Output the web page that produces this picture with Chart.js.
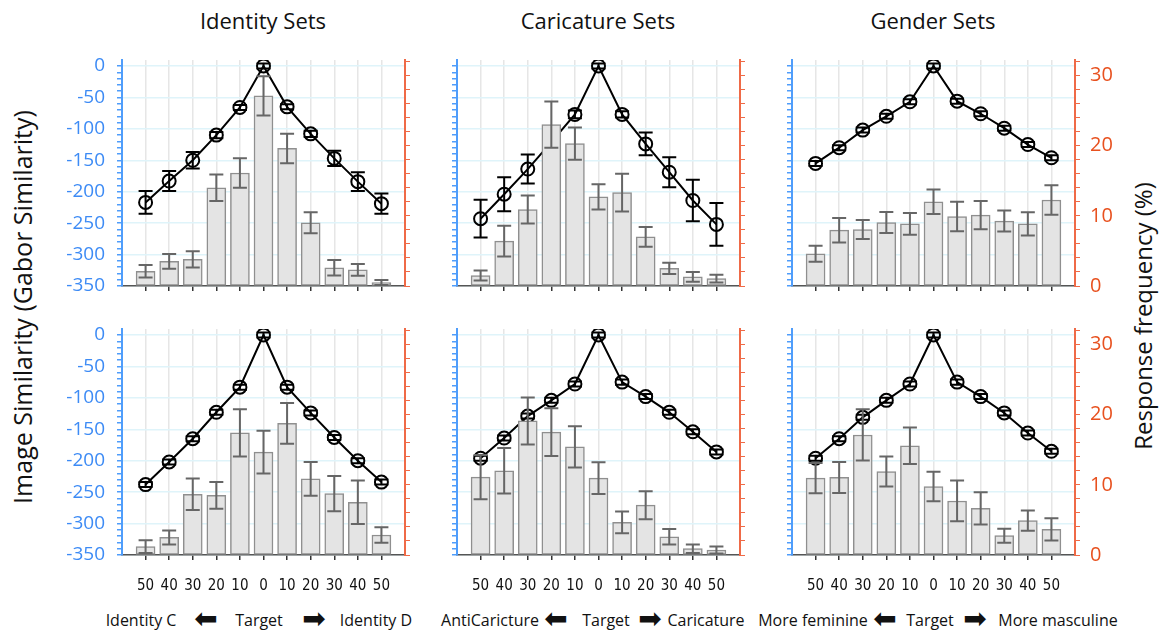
<!DOCTYPE html>
<html>
<head>
<meta charset="utf-8">
<script src="https://cdn.jsdelivr.net/npm/chart.js@4.4.1/dist/chart.umd.min.js"></script>
<style>
  body { margin: 0; background: #fff; width: 1160px; height: 635px; overflow: hidden; position: relative; font-family: 'Open Sans', sans-serif; color: #111; }
  .panel { position: absolute; }
  .title { position: absolute; top: 5px; font-size: 22px; transform: translateX(-50%); white-space: nowrap; }
  .ylab { position: absolute; white-space: nowrap; transform: translate(-50%, -50%) rotate(-90deg); }
  .note { position: absolute; top: 609px; font-size: 16px; line-height: 22px; transform: translateX(-50%); white-space: nowrap; }
  .arrow { font-family: 'DejaVu Sans', sans-serif; font-size: 28px; line-height: 28px; top: 605px; }
</style>
</head>
<body>
<div class="title" style="left:263px">Identity Sets</div>
<div class="title" style="left:598px">Caricature Sets</div>
<div class="title" style="left:933px">Gender Sets</div>
<div class="ylab" style="left:22px; top:307px; font-size:25px">Image Similarity (Gabor Similarity)</div>
<div class="ylab" style="left:1142px; top:316px; font-size:24px">Response frequency (%)</div>

<div class="note" style="left:141px">Identity C</div>
<div class="note arrow" style="left:206px">⬅</div>
<div class="note" style="left:259px">Target</div>
<div class="note arrow" style="left:314px">➡</div>
<div class="note" style="left:376px">Identity D</div>

<div class="note" style="left:490px">AntiCaricture</div>
<div class="note arrow" style="left:556px">⬅</div>
<div class="note" style="left:606px">Target</div>
<div class="note arrow" style="left:650px">➡</div>
<div class="note" style="left:706px">Caricature</div>

<div class="note" style="left:813px">More feminine</div>
<div class="note arrow" style="left:885px">⬅</div>
<div class="note" style="left:930px">Target</div>
<div class="note arrow" style="left:975px">➡</div>
<div class="note" style="left:1058px">More masculine</div>

<script>
const xLabels = ['50', '40', '30', '20', '10', '0', '10', '20', '30', '40', '50'];

// Identity sets
const simIdTop = [-217, -183, -150, -110, -66, 0, -65, -108, -147, -184, -219];
const simIdTopErr = [18, 16, 13, 5, 4, 4, 4, 5, 12, 15, 16];
const freqIdTop = [2.1, 3.5, 3.8, 14.0, 16.1, 27.1, 19.6, 9.0, 2.6, 2.3, 0.5];
const freqIdTopErr = [0.9, 1.05, 1.15, 1.9, 2.1, 2.8, 2.1, 1.5, 1.1, 0.85, 0.35];

const simIdBot = [-238, -202, -165, -123, -83, 0, -83, -124, -163, -200, -234];
const simIdBotErr = [4, 4, 4, 4, 4, 4, 4, 4, 4, 4, 4];
const freqIdBot = [1.2, 2.5, 8.65, 8.5, 17.4, 14.65, 18.75, 10.85, 8.75, 7.5, 2.85];
const freqIdBotErr = [0.9, 1.0, 2.25, 1.9, 3.35, 3.05, 2.9, 2.4, 2.5, 3.1, 1.1];

// Caricature sets
const simCarTop = [-243, -204, -164, -121, -77, 0, -77, -124, -169, -214, -252];
const simCarTopErr = [30, 27, 23, 20, 6, 4, 5, 18, 24, 33, 34];
const freqCarTop = [1.5, 6.4, 10.9, 23.0, 20.3, 12.7, 13.3, 7.0, 2.5, 1.3, 1.05];
const freqCarTopErr = [0.7, 2.2, 2.0, 3.3, 2.3, 1.8, 2.7, 1.4, 0.8, 0.7, 0.55];

const simCarBot = [-196, -164, -129, -104, -78, 0, -75, -98, -123, -154, -186];
const simCarBotErr = [4, 4, 4, 4, 4, 4, 4, 4, 4, 4, 4];
const freqCarBot = [11.1, 12.0, 19.1, 17.5, 15.4, 10.95, 4.65, 7.1, 2.6, 0.9, 0.7];
const freqCarBotErr = [3.15, 3.25, 3.35, 3.4, 2.95, 2.25, 1.55, 2.0, 1.1, 0.6, 0.5];

// Gender sets
const simGenTop = [-155, -130, -102, -80, -57, 0, -56, -76, -99, -125, -146];
const simGenTopErr = [4, 4, 4, 4, 4, 4, 4, 4, 4, 4, 4];
const freqGenTop = [4.6, 7.95, 8.05, 9.05, 8.85, 12.0, 9.9, 10.1, 9.25, 8.85, 12.25];
const freqGenTopErr = [1.15, 1.75, 1.35, 1.5, 1.55, 1.75, 2.1, 2.0, 1.5, 1.65, 2.1];

const simGenBot = [-196, -165, -131, -104, -78, 0, -75, -98, -124, -156, -185];
const simGenBotErr = [4, 4, 4, 4, 4, 4, 4, 4, 4, 4, 4];
const freqGenBot = [10.95, 11.05, 17.1, 11.9, 15.55, 9.75, 7.7, 6.65, 2.75, 4.9, 3.65];
const freqGenBotErr = [2.15, 2.2, 3.65, 2.15, 2.6, 2.1, 2.9, 2.3, 1.0, 1.45, 1.6];

const BLUE = '#3d8bf5';
const BLUE_AXIS = '#4f9dfb';
const RED = '#e8511f';
const RED_AXIS = '#ef6a47';

// pad with an empty slot on each side so the points sit one step in from the axes
const pad = arr => [null, ...arr, null];

const errorBars = {
  id: 'errorBars',
  afterDatasetDraw(chart, args) {
    const ds = chart.data.datasets[args.index];
    if (!ds.errors) return;
    const yScale = chart.scales[ds.yAxisID];
    const ctx = chart.ctx;
    ctx.save();
    ctx.strokeStyle = ds.errorColor;
    ctx.lineWidth = 2;
    args.meta.data.forEach((el, i) => {
      const v = ds.data[i], e = ds.errors[i];
      if (v == null || e == null) return;
      const x = el.x;
      const y1 = yScale.getPixelForValue(v + e);
      const y2 = yScale.getPixelForValue(v - e);
      ctx.beginPath();
      ctx.moveTo(x, y1); ctx.lineTo(x, y2);
      ctx.moveTo(x - 7, y1); ctx.lineTo(x + 7, y1);
      ctx.moveTo(x - 7, y2); ctx.lineTo(x + 7, y2);
      ctx.stroke();
    });
    ctx.restore();
  }
};

const colLeft = [122, 457, 792];
const rowTop = [60, 329];
const plotW = 283, plotH = 226;
const LW = 60, RW = 48, PT = 14;

// fixed axis sizes, and no extra room reserved for half-labels
function fixSize(s, w, h) {
  if (w != null) s.width = w;
  if (h != null) s.height = h;
  s.paddingTop = 0; s.paddingBottom = 0; s.paddingLeft = 0; s.paddingRight = 0;
}

function makePanel(col, row, sim, simErr, freq, freqErr) {
  const BH = row === 0 ? 14 : 48;
  const div = document.createElement('div');
  div.className = 'panel';
  div.style.left = (colLeft[col] - LW) + 'px';
  div.style.top = (rowTop[row] - PT) + 'px';
  div.style.width = (LW + plotW + RW) + 'px';
  div.style.height = (PT + plotH + BH) + 'px';
  const canvas = document.createElement('canvas');
  div.appendChild(canvas);
  document.body.appendChild(div);

  const edge = c => c.index === 0 || c.index === 12;

  new Chart(canvas, {
    type: 'bar',
    data: {
      labels: ['', ...xLabels, ''],
      datasets: [
        {
          type: 'line',
          data: pad(sim),
          errors: pad(simErr),
          errorColor: '#000',
          yAxisID: 'y',
          order: 2,
          borderColor: '#000',
          borderWidth: 2,
          pointRadius: 6.5,
          pointBorderWidth: 2,
          pointBackgroundColor: 'rgba(0,0,0,0)',
          pointBorderColor: '#000',
          tension: 0
        },
        {
          type: 'bar',
          data: pad(freq),
          errors: pad(freqErr),
          errorColor: '#666',
          yAxisID: 'yR',
          order: 1,
          backgroundColor: '#e4e4e4',
          borderColor: '#8f8f8f',
          borderWidth: 1.5,
          borderSkipped: false,
          barThickness: 19
        }
      ]
    },
    options: {
      responsive: true,
      maintainAspectRatio: false,
      animation: false,
      layout: { padding: { top: PT, left: 0, right: 0, bottom: 0 } },
      plugins: { legend: { display: false }, tooltip: { enabled: false } },
      scales: {
        x: {
          offset: false,
          afterFit: s => fixSize(s, null, BH),
          grid: {
            offset: false,
            color: c => edge(c) ? 'rgba(0,0,0,0)' : '#e6e6e6',
            lineWidth: 1.5,
            tickColor: c => edge(c) ? 'rgba(0,0,0,0)' : '#333',
            tickLength: 5
          },
          border: { color: '#555', width: 1.5 },
          ticks: {
            display: row === 1,
            autoSkip: false,
            maxRotation: 0,
            padding: 17,
            color: '#111',
            font: { family: "'Liberation Sans Narrow', 'DejaVu Sans Condensed', 'Open Sans', sans-serif", size: 15 }
          }
        },
        y: {
          position: 'left',
          min: -350,
          max: 9.5,
          afterFit: s => fixSize(s, LW, null),
          grid: {
            color: c => c.tick && c.tick.value % 50 === 0 ? '#dff4fa' : 'rgba(0,0,0,0)',
            lineWidth: 1.5,
            tickColor: BLUE_AXIS,
            tickLength: 5
          },
          border: { color: BLUE_AXIS, width: 2 },
          ticks: {
            display: col === 0,
            stepSize: 10,
            includeBounds: false,
            autoSkip: false,
            padding: 12,
            color: BLUE,
            font: { family: "'Open Sans', sans-serif", size: 19 },
            callback: v => v % 50 === 0 ? v : ''
          }
        },
        yR: {
          position: 'right',
          min: 0,
          max: 32.2,
          afterFit: s => fixSize(s, RW, null),
          grid: {
            drawOnChartArea: false,
            tickColor: RED_AXIS,
            tickLength: 5
          },
          border: { color: RED_AXIS, width: 2 },
          ticks: {
            display: col === 2,
            stepSize: 2,
            includeBounds: false,
            autoSkip: false,
            padding: 10,
            color: RED,
            font: { family: "'Open Sans', sans-serif", size: 20 },
            callback: v => v % 10 === 0 ? v : ''
          }
        }
      }
    },
    plugins: [errorBars]
  });
}

makePanel(0, 0, simIdTop, simIdTopErr, freqIdTop, freqIdTopErr);
makePanel(1, 0, simCarTop, simCarTopErr, freqCarTop, freqCarTopErr);
makePanel(2, 0, simGenTop, simGenTopErr, freqGenTop, freqGenTopErr);
makePanel(0, 1, simIdBot, simIdBotErr, freqIdBot, freqIdBotErr);
makePanel(1, 1, simCarBot, simCarBotErr, freqCarBot, freqCarBotErr);
makePanel(2, 1, simGenBot, simGenBotErr, freqGenBot, freqGenBotErr);
</script>
</body>
</html>
